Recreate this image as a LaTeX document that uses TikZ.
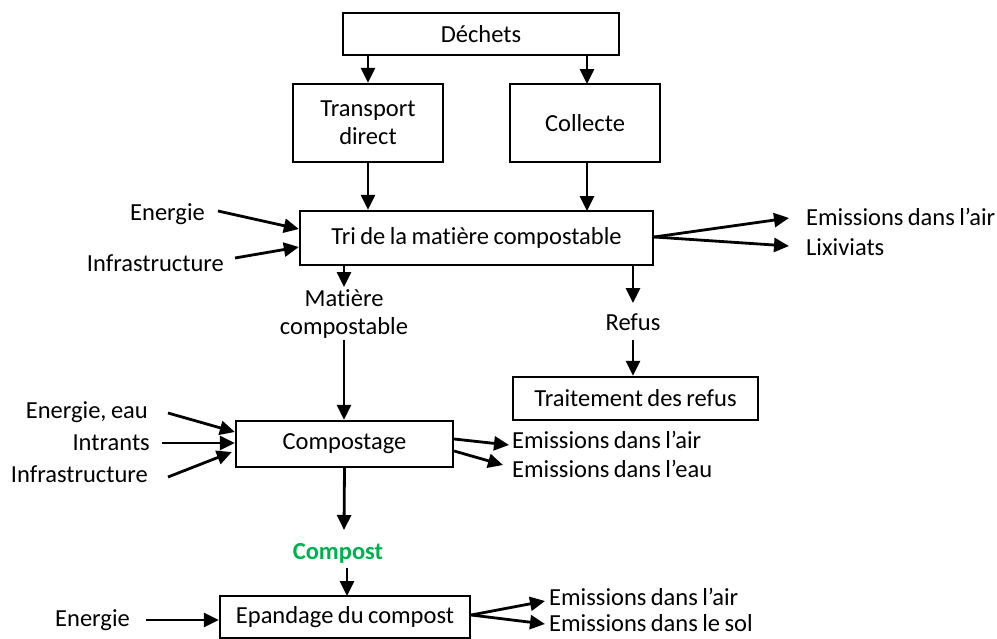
\documentclass[tikz,border=0pt]{standalone}
\usepackage{fontspec}
\setmainfont{Carlito}[Ligatures={NoCommon}, WordSpace=0.8]
\usetikzlibrary{arrows.meta}
\definecolor{compostgreen}{RGB}{0,176,80}
\begin{document}
\begin{tikzpicture}[x=1pt,y=-1pt,
  txt/.style={inner sep=0pt, align=center, font=\fontsize{24.5}{28}\selectfont},
  tight/.style={txt, text height=15pt, text depth=3pt},
  box/.style={txt, draw, line width=2.3pt},
  flow/.style={line width=2.8pt, -{Triangle[length=15pt,width=14pt]}},
]
\useasboundingbox (0,0) rectangle (997,638);

% process boxes
\node[box, minimum width=276pt, minimum height=42pt] (dechets) at (481,34) {Déchets};
\node[box, minimum width=150pt, minimum height=78pt] (transport) at (368,123) {Transport\\direct};
\node[box, minimum width=150pt, minimum height=78pt] (collecte) at (585,123) {Collecte};
\node[box, minimum width=353pt, minimum height=54pt] (tri) at (476.5,238) {Tri de la matière compostable};
\node[box, minimum width=245pt, minimum height=43pt] (traitement) at (635.5,398.5) {Traitement des refus};
\node[box, minimum width=217pt, minimum height=46pt] (compostage) at (344.5,444) {Compostage};
\node[box, minimum width=250pt, minimum height=42pt] (epandage) at (345,617) {Epandage du compost};

% intermediate flows
\node[txt] (matiere) at (344,314) {Matière\\compostable};
\node[txt] (refus) at (633,322) {Refus};
\node[txt, font=\fontsize{24.5}{28}\selectfont\bfseries, text=compostgreen] (compost) at (338,553) {Compost};

% inputs and outputs of the sorting step
\node[txt, anchor=east] (triE) at (205,214) {Energie};
\node[txt, anchor=east] (triI) at (224,263) {Infrastructure};
\node[txt, anchor=west] (triAir) at (806,217) {Emissions dans l’air};
\node[txt, anchor=west] (triLix) at (806,247) {Lixiviats};

% inputs and outputs of composting
\node[txt, anchor=east] (compE) at (148,412) {Energie, eau};
\node[txt, anchor=east] (compIn) at (150,443) {Intrants};
\node[txt, anchor=east] (compI) at (148,474) {Infrastructure};
\node[txt, anchor=west] (compAir) at (512,440) {Emissions dans l’air};
\node[txt, anchor=west] (compEau) at (512,469) {Emissions dans l’eau};

% inputs and outputs of spreading
\node[txt, anchor=east] (epE) at (130,620) {Energie};
\node[tight, anchor=west] (epAir) at (549,599) {Emissions dans l’air};
\node[tight, anchor=west] (epSol) at (549,625) {Emissions dans le sol};

% main chain
\draw[flow] (dechets.south -| transport.north) -- (transport.north);
\draw[flow] (dechets.south -| 587,0) -- (587,84);
\draw[flow] (transport.south) -- (transport.south |- tri.north);
\draw[flow] (587,162) -- (587,211);
\draw[flow] (tri.south -| matiere.north) -- (344,287);
\draw[flow] (344,340) -- (matiere.south |- compostage.north);
\draw[flow] (tri.south -| refus.north) -- (633,303);
\draw[flow] (633,340) -- (refus.south |- traitement.north);
\draw[flow] (compostage.south) -- (344,530);
\draw[flow] (347,568) -- (347,596);

% sorting step side flows
\draw[flow] (218,211) -- ([yshift=9pt]tri.west);
\draw[flow] (235,258) -- ([yshift=-9pt]tri.west);
\draw[flow] ([yshift=1pt]tri.east) -- (789,218);
\draw[flow] ([yshift=1pt]tri.east) -- (789,246);

% composting side flows
\draw[flow] (168,413) -- ([yshift=12pt]compostage.west);
\draw[flow] (162,443) -- ([yshift=1pt]compostage.west);
\draw[flow] (168,477) -- ([xshift=-3pt,yshift=-8pt]compostage.west);
\draw[flow] ([yshift=5pt]compostage.east) -- (509,445);
\draw[flow] ([yshift=-7pt]compostage.east) -- (503,465);

% spreading side flows
\draw[flow] (146,620) -- (epandage.west |- epE.east);
\draw[flow] ([yshift=2pt]epandage.east) -- (545,601);
\draw[flow] ([yshift=2pt]epandage.east) -- (545,624);
\end{tikzpicture}
\end{document}
